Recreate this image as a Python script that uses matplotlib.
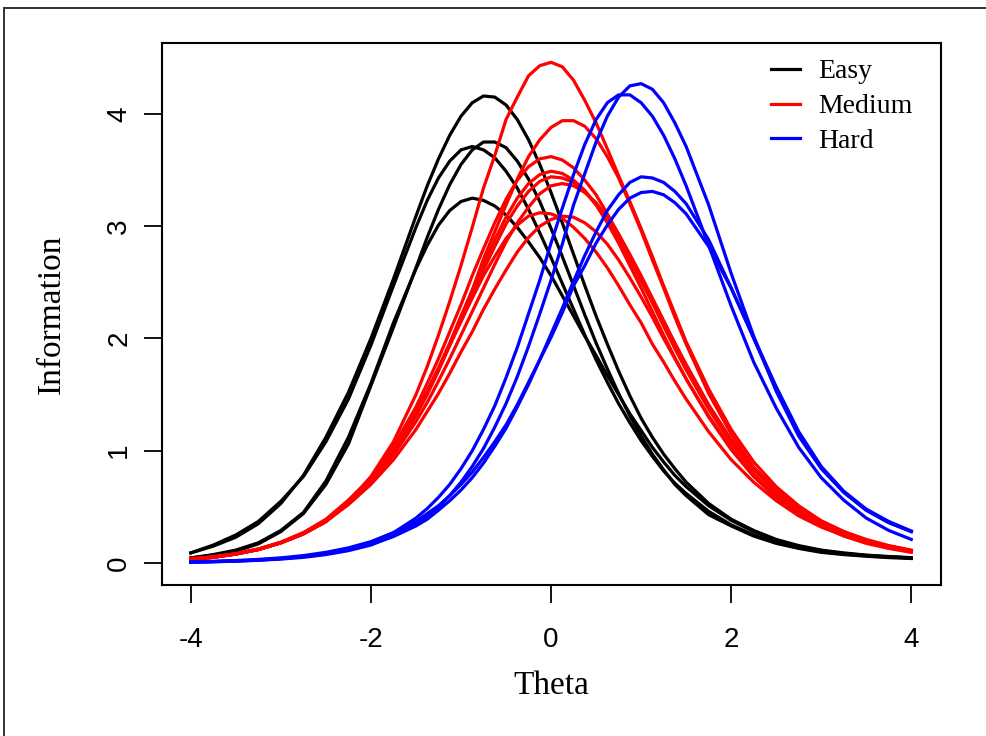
import matplotlib
matplotlib.use("Agg")
import matplotlib.pyplot as plt
from matplotlib.lines import Line2D

theta = [-4.0, -3.75, -3.5, -3.25, -3.0, -2.75, -2.5, -2.25, -2.0, -1.75, -1.5,
         -1.375, -1.25, -1.125, -1.0, -0.875, -0.75, -0.625, -0.5, -0.375, -0.25, -0.125,
         0.0, 0.125, 0.25, 0.375, 0.5, 0.625, 0.75, 0.875, 1.0, 1.125, 1.25, 1.375,
         1.5, 1.75, 2.0, 2.25, 2.5, 2.75, 3.0, 3.25, 3.5, 3.75, 4.0]

easy_1 = [0.09, 0.15, 0.23, 0.35, 0.53, 0.78, 1.12, 1.52, 2.00, 2.53, 3.09,
          3.36, 3.60, 3.81, 3.98, 4.10, 4.16, 4.15, 4.08, 3.95, 3.77, 3.55, 3.30, 3.03, 2.75,
          2.47, 2.20, 1.95, 1.71, 1.49, 1.29, 1.12, 0.97, 0.84,
          0.72, 0.53, 0.39, 0.29, 0.21, 0.155, 0.115, 0.09, 0.07, 0.058, 0.048]
easy_2 = [0.045, 0.07, 0.105, 0.17, 0.28, 0.44, 0.70, 1.06, 1.58, 2.10, 2.63,
          2.90, 3.15, 3.37, 3.55, 3.68, 3.75, 3.75, 3.70, 3.58, 3.42, 3.22, 2.98, 2.73, 2.47,
          2.21, 1.96, 1.73, 1.51, 1.31, 1.13, 0.97, 0.83, 0.70,
          0.60, 0.43, 0.33, 0.24, 0.175, 0.13, 0.095, 0.075, 0.06, 0.048, 0.04]
easy_3 = [0.09, 0.16, 0.25, 0.37, 0.55, 0.77, 1.08, 1.46, 1.94, 2.47, 2.99,
          3.23, 3.43, 3.58, 3.68, 3.71, 3.68, 3.61, 3.49, 3.34, 3.15, 2.94, 2.72, 2.49, 2.26,
          2.03, 1.81, 1.61, 1.42, 1.25, 1.09, 0.95, 0.82, 0.71,
          0.62, 0.46, 0.34, 0.25, 0.18, 0.135, 0.10, 0.08, 0.065, 0.053, 0.045]
easy_4 = [0.045, 0.075, 0.115, 0.18, 0.29, 0.45, 0.73, 1.12, 1.60, 2.14, 2.62,
          2.83, 3.01, 3.14, 3.22, 3.25, 3.23, 3.18, 3.10, 2.99, 2.86, 2.72, 2.56, 2.38, 2.20,
          2.02, 1.85, 1.67, 1.50, 1.33, 1.18, 1.03, 0.90, 0.78,
          0.68, 0.51, 0.38, 0.28, 0.20, 0.15, 0.11, 0.085, 0.068, 0.055, 0.045]

medium_1 = [0.037, 0.055, 0.08, 0.12, 0.18, 0.26, 0.37, 0.54, 0.77, 1.08, 1.50,
            1.75, 2.03, 2.33, 2.65, 2.99, 3.34, 3.63, 3.95, 4.15, 4.34, 4.43, 4.46, 4.42, 4.30,
            4.12, 3.92, 3.69, 3.45, 3.22, 2.98, 2.73, 2.47, 2.22,
            1.97, 1.55, 1.19, 0.90, 0.68, 0.51, 0.375, 0.28, 0.20, 0.15, 0.11]
medium_2 = [0.033, 0.05, 0.08, 0.12, 0.18, 0.26, 0.37, 0.53, 0.73, 0.98, 1.31,
            1.50, 1.71, 1.94, 2.18, 2.43, 2.71, 2.95, 3.19, 3.42, 3.62, 3.77, 3.88, 3.94, 3.94,
            3.89, 3.78, 3.62, 3.43, 3.20, 2.96, 2.70, 2.45, 2.19,
            1.95, 1.51, 1.15, 0.85, 0.63, 0.46, 0.33, 0.24, 0.175, 0.13, 0.095]
medium_3 = [0.033, 0.05, 0.08, 0.12, 0.18, 0.26, 0.37, 0.55, 0.76, 1.04, 1.39,
            1.60, 1.82, 2.06, 2.30, 2.56, 2.80, 3.03, 3.24, 3.41, 3.53, 3.60, 3.62, 3.59, 3.52,
            3.41, 3.28, 3.11, 2.93, 2.73, 2.53, 2.32, 2.11, 1.91,
            1.72, 1.37, 1.07, 0.83, 0.63, 0.48, 0.36, 0.27, 0.20, 0.15, 0.11]
medium_4 = [0.032, 0.05, 0.08, 0.12, 0.18, 0.26, 0.37, 0.54, 0.74, 1.01, 1.34,
            1.53, 1.74, 1.96, 2.20, 2.43, 2.66, 2.88, 3.08, 3.25, 3.38, 3.46, 3.49, 3.47, 3.41,
            3.32, 3.19, 3.03, 2.85, 2.65, 2.45, 2.24, 2.03, 1.83,
            1.64, 1.30, 1.01, 0.77, 0.58, 0.44, 0.33, 0.245, 0.18, 0.135, 0.10]
medium_5 = [0.035, 0.055, 0.083, 0.125, 0.185, 0.27, 0.38, 0.55, 0.76, 1.02, 1.34,
            1.53, 1.73, 1.94, 2.16, 2.39, 2.61, 2.82, 3.02, 3.18, 3.31, 3.40, 3.44, 3.43, 3.39,
            3.31, 3.19, 3.05, 2.88, 2.70, 2.51, 2.32, 2.12, 1.92,
            1.73, 1.39, 1.09, 0.85, 0.65, 0.50, 0.375, 0.28, 0.21, 0.155, 0.115]
medium_6 = [0.034, 0.052, 0.08, 0.12, 0.18, 0.26, 0.37, 0.53, 0.72, 0.96, 1.26,
            1.43, 1.62, 1.82, 2.03, 2.24, 2.45, 2.66, 2.86, 3.03, 3.17, 3.29, 3.36, 3.38, 3.36,
            3.30, 3.21, 3.08, 2.93, 2.75, 2.56, 2.36, 2.16, 1.96,
            1.77, 1.41, 1.10, 0.85, 0.65, 0.49, 0.365, 0.27, 0.20, 0.15, 0.11]
medium_7 = [0.036, 0.055, 0.083, 0.125, 0.185, 0.27, 0.39, 0.56, 0.76, 1.03, 1.35,
            1.53, 1.73, 1.94, 2.15, 2.36, 2.56, 2.73, 2.89, 3.01, 3.09, 3.12, 3.11, 3.07, 2.99,
            2.89, 2.77, 2.63, 2.47, 2.30, 2.14, 1.95, 1.79, 1.62,
            1.46, 1.17, 0.92, 0.72, 0.555, 0.42, 0.32, 0.245, 0.185, 0.14, 0.105]
medium_8 = [0.034, 0.052, 0.08, 0.12, 0.18, 0.26, 0.37, 0.52, 0.70, 0.92, 1.19,
            1.35, 1.51, 1.69, 1.88, 2.06, 2.26, 2.44, 2.61, 2.77, 2.90, 3.00, 3.06, 3.09, 3.08,
            3.03, 2.95, 2.84, 2.70, 2.54, 2.37, 2.19, 2.00, 1.82,
            1.64, 1.31, 1.03, 0.79, 0.60, 0.45, 0.34, 0.255, 0.19, 0.14, 0.105]

hard_1 = [0.007, 0.011, 0.016, 0.024, 0.035, 0.05, 0.075, 0.11, 0.16, 0.24, 0.35,
          0.42, 0.50, 0.60, 0.72, 0.86, 1.02, 1.21, 1.42, 1.66, 1.93, 2.22, 2.52, 2.84, 3.19,
          3.47, 3.75, 3.98, 4.15, 4.25, 4.27, 4.22, 4.10, 3.92,
          3.71, 3.19, 2.58, 2.02, 1.53, 1.13, 0.84, 0.63, 0.47, 0.36, 0.28]
hard_2 = [0.008, 0.012, 0.017, 0.026, 0.038, 0.057, 0.085, 0.126, 0.186, 0.27, 0.40,
          0.485, 0.585, 0.70, 0.84, 1.00, 1.19, 1.40, 1.65, 1.92, 2.22, 2.52, 2.85, 3.16, 3.46,
          3.73, 3.95, 4.10, 4.17, 4.17, 4.10, 3.98, 3.81, 3.60,
          3.36, 2.83, 2.29, 1.79, 1.38, 1.03, 0.76, 0.56, 0.40, 0.29, 0.21]
hard_3 = [0.009, 0.013, 0.019, 0.028, 0.04, 0.057, 0.081, 0.116, 0.166, 0.236, 0.33,
          0.39, 0.47, 0.555, 0.65, 0.76, 0.89, 1.04, 1.20, 1.39, 1.59, 1.81, 2.04, 2.27, 2.51,
          2.74, 2.95, 3.14, 3.28, 3.39, 3.44, 3.43, 3.39, 3.31,
          3.20, 2.88, 2.45, 2.00, 1.55, 1.15, 0.85, 0.63, 0.47, 0.36, 0.28]
hard_4 = [0.01, 0.015, 0.022, 0.032, 0.046, 0.066, 0.095, 0.135, 0.19, 0.27, 0.37,
          0.44, 0.51, 0.60, 0.70, 0.81, 0.94, 1.08, 1.23, 1.41, 1.61, 1.81, 2.01, 2.23, 2.47,
          2.65, 2.85, 3.01, 3.15, 3.25, 3.30, 3.31, 3.28, 3.21,
          3.11, 2.82, 2.45, 2.01, 1.57, 1.17, 0.86, 0.64, 0.48, 0.37, 0.285]

groups = ["Easy", "Medium", "Hard"]
group_colors = ["black", "red", "blue"]
group_curves = [
    [easy_1, easy_2, easy_3, easy_4],
    [medium_1, medium_2, medium_3, medium_4, medium_5, medium_6, medium_7, medium_8],
    [hard_1, hard_2, hard_3, hard_4],
]
x_ticks = [-4, -2, 0, 2, 4]
y_ticks = [0, 1, 2, 3, 4]

W, H = 986, 736
fig = plt.figure(figsize=(W / 100, H / 100), dpi=100)
fig.patch.set_facecolor("white")

ax = fig.add_axes([162 / W, 1 - 585 / H, (941 - 162) / W, (585 - 43) / H])
for curves, col in zip(group_curves, group_colors):
    for c in curves:
        ax.plot(theta, c, color=col, lw=2.3, solid_joinstyle="round")

ax.set_xlim(-4.32, 4.33)
ax.set_ylim(-0.196, 4.632)
ax.set_xticks(x_ticks)
ax.set_yticks(y_ticks)
ax.set_xticklabels([str(v) for v in x_ticks], family="Liberation Sans", fontsize=20)
ax.set_yticklabels([str(v) for v in y_ticks], family="Liberation Sans", fontsize=20,
                   rotation=90, va="center")
ax.tick_params(direction="out", length=13, width=1.3, color="black")
ax.tick_params(axis="x", pad=17)
ax.tick_params(axis="y", pad=8.5)
for s in ax.spines.values():
    s.set_linewidth(1.5)
    s.set_color("black")

ax.set_xlabel("Theta", family="Liberation Serif", fontsize=24, va="baseline")
ax.xaxis.set_label_coords(0.5, -(694 - 585) / 542)
ax.set_ylabel("Information", family="Liberation Serif", fontsize=24, va="baseline")
ax.yaxis.set_label_coords(-(162 - 60) / 779, 0.5)

handles = [Line2D([], [], color=c, lw=2.3) for c in group_colors]
ax.legend(handles, groups, loc="upper left", bbox_to_anchor=(771 / W, 1 - 59 / H),
          bbox_transform=fig.transFigure, frameon=False, borderpad=0, borderaxespad=0,
          handlelength=1.05, handletextpad=0.66, labelspacing=0.336,
          prop={"family": "Liberation Serif", "size": 20})

# outer screenshot frame
fig.add_artist(Line2D([4 / W, 4 / W], [0, 1 - 8 / H], transform=fig.transFigure,
                      color="#333333", lw=1.4))
fig.add_artist(Line2D([4 / W, 1], [1 - 8 / H, 1 - 8 / H], transform=fig.transFigure,
                      color="#333333", lw=1.4))

fig.savefig("out.png", dpi=100)
